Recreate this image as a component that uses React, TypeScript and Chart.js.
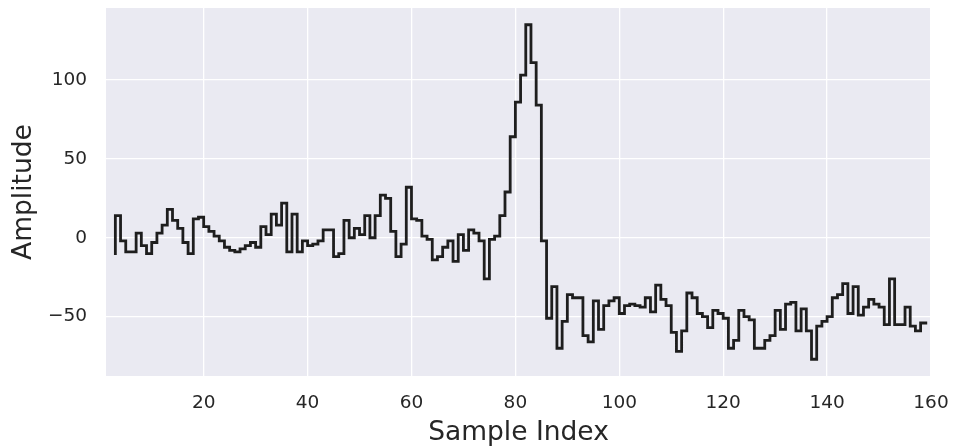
import React, { useEffect, useRef } from "react";
import { Chart, registerables } from "chart.js";

Chart.register(...registerables);

// Sample indices run from firstSample to firstSample + amplitude.length - 1
const firstSample = 3;
const amplitude: number[] = [
  -10, 14, -2, -9, -9, 3, -5, -10, -3, 3,
  8, 18, 11, 6, -3, -10, 12, 13, 7, 4,
  1, -2, -6, -8, -9, -7, -5, -3, -6, 7,
  2, 15, 8, 22, -9, 15, -9, -2, -5, -4,
  -2, 5, 5, -12, -10, 11, 0, 6, 2, 14,
  0, 14, 27, 25, 4, -12, -4, 32, 12, 11,
  1, -1, -14, -12, -6, -2, -15, 2, -8, 5,
  3, -2, -26, -1, 1, 14, 29, 64, 86, 103,
  135, 111, 84, -2, -51, -31, -70, -53, -36, -38,
  -38, -62, -66, -40, -58, -43, -40, -38, -48, -43,
  -42, -43, -44, -38, -47, -30, -39, -43, -60, -72,
  -59, -35, -38, -48, -50, -57, -46, -48, -51, -70,
  -65, -46, -50, -52, -70, -70, -65, -62, -46, -58,
  -42, -41, -59, -45, -59, -77, -56, -53, -50, -38,
  -36, -29, -48, -31, -49, -44, -39, -42, -44, -55,
  -26, -55, -55, -44, -56, -59, -54,
];
const xTicks = [20, 40, 60, 80, 100, 120, 140, 160];
const yTicks = [-50, 0, 50, 100];
const xRange = [1.2, 160];
const yRange = [-87.6, 145.6];
const xTitle = "Sample Index";
const yTitle = "Amplitude";

const W = 953;
const H = 447;

const plotBg = {
  id: "plotBg",
  beforeDraw(chart: any) {
    const { ctx, chartArea } = chart;
    if (!chartArea) return;
    ctx.save();
    ctx.fillStyle = "#EAEAF2";
    ctx.fillRect(chartArea.left, chartArea.top, chartArea.right - chartArea.left, chartArea.bottom - chartArea.top);
    ctx.restore();
  },
};

export default function App() {
  const ref = useRef<HTMLCanvasElement | null>(null);

  useEffect(() => {
    document.body.style.margin = "0";
    const canvas = ref.current;
    if (!canvas) return;
    const points = amplitude.map((v, i) => ({ x: firstSample + i, y: v }));
    const font = "'DejaVu Sans', sans-serif";
    const chart = new Chart(canvas, {
      type: "line",
      data: {
        datasets: [
          {
            data: points,
            stepped: "after",
            borderColor: "#1e1e1e",
            borderWidth: 2.8,
            pointRadius: 0,
            fill: false,
            borderCapStyle: "square",
            borderJoinStyle: "miter",
          } as any,
        ],
      },
      plugins: [plotBg],
      options: {
        animation: false,
        responsive: false,
        maintainAspectRatio: false,
        devicePixelRatio: 1,
        layout: { padding: { top: 8, right: 22, left: 0, bottom: 0 } },
        plugins: { legend: { display: false }, tooltip: { enabled: false } },
        scales: {
          x: {
            type: "linear",
            min: xRange[0],
            max: xRange[1],
            afterBuildTicks: (s: any) => {
              s.ticks = xTicks.map((v) => ({ value: v }));
            },
            afterFit: (s: any) => {
              s.height = H - 376;
              s.paddingLeft = 0;
              s.paddingRight = 0;
            },
            grid: { color: "#FFFFFF", lineWidth: 1.3, drawTicks: false },
            border: { display: false },
            ticks: {
              color: "#262626",
              font: { family: font, size: 18.5 },
              padding: 16,
              maxRotation: 0,
            },
            title: {
              display: true,
              text: xTitle,
              color: "#262626",
              font: { family: font, size: 26.5 },
              padding: { top: 0, bottom: -2 },
            },
          },
          y: {
            type: "linear",
            min: yRange[0],
            max: yRange[1],
            afterBuildTicks: (s: any) => {
              s.ticks = yTicks.map((v) => ({ value: v }));
            },
            afterFit: (s: any) => {
              s.width = 106;
              s.paddingTop = 0;
              s.paddingBottom = 0;
            },
            grid: { color: "#FFFFFF", lineWidth: 1.3, drawTicks: false },
            border: { display: false },
            ticks: {
              color: "#262626",
              font: { family: font, size: 18.5 },
              padding: 19,
              callback: (v: any) => (Number(v) < 0 ? "\u2212" + Math.abs(Number(v)) : String(v)),
            },
            title: {
              display: true,
              text: yTitle,
              color: "#262626",
              font: { family: font, size: 26.5 },
              padding: { top: 8, bottom: 0 },
            },
          },
        },
      },
    });
    return () => chart.destroy();
  }, []);

  return (
    <div style={{ width: W, height: H, background: "#FFFFFF" }}>
      <canvas ref={ref} width={W} height={H} style={{ display: "block", width: W, height: H }} />
    </div>
  );
}
